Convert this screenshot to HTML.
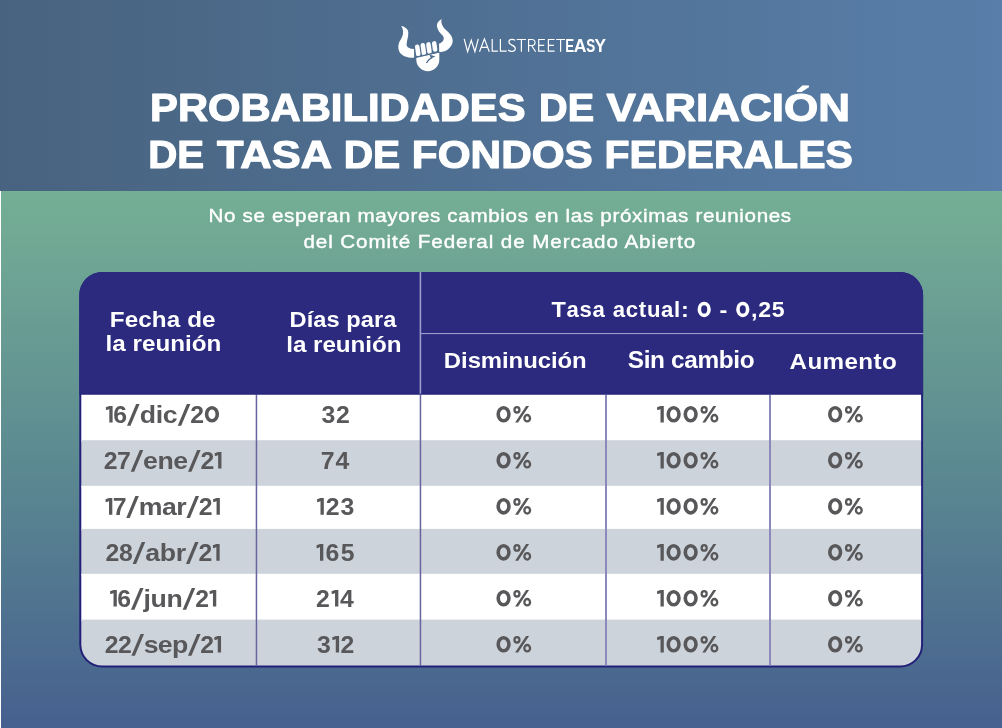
<!DOCTYPE html>
<html><head><meta charset="utf-8"><style>
html,body{margin:0;padding:0;width:1002px;height:728px;overflow:hidden;background:#46608f}
svg{display:block;will-change:transform}
text{font-family:"Liberation Sans",sans-serif}
</style></head><body>
<svg width="1002" height="728" viewBox="0 0 1002 728">
<defs>
<linearGradient id="gt" x1="0" y1="0" x2="1" y2="0"><stop offset="0" stop-color="#48637f"/><stop offset="1" stop-color="#587ea9"/></linearGradient>
<linearGradient id="gb" x1="0" y1="0" x2="0" y2="1"><stop offset="0" stop-color="#75af95"/><stop offset="0.5" stop-color="#5c8a91"/><stop offset="1" stop-color="#46608f"/></linearGradient>
<clipPath id="tc"><rect x="81.3" y="274" width="839.8" height="391.6" rx="21" ry="21"/></clipPath>
<clipPath id="th"><rect x="79" y="271" width="845" height="123.4"/></clipPath>
</defs>
<rect x="0" y="0" width="1002" height="191" fill="url(#gt)"/>
<rect x="0" y="191" width="1002" height="537" fill="url(#gb)"/>
<rect x="0" y="191" width="1" height="537" fill="#ffffff"/>
<rect x="79.3" y="272" width="843.8" height="395.6" rx="23" ry="23" fill="#221f78"/>
<g clip-path="url(#tc)">
<rect x="79" y="394.4" width="845" height="47.30000000000001" fill="#ffffff"/><rect x="79" y="440.2" width="845" height="47.10000000000002" fill="#cdd3da"/><rect x="79" y="485.8" width="845" height="44.599999999999966" fill="#ffffff"/><rect x="79" y="528.9" width="845" height="46.39999999999998" fill="#cdd3da"/><rect x="79" y="573.8" width="845" height="47.30000000000007" fill="#ffffff"/><rect x="79" y="619.6" width="845" height="49.89999999999998" fill="#cdd3da"/>
<rect x="255.7" y="394.4" width="1.5" height="274" fill="#67649f"/>
<rect x="419.7" y="394.4" width="1.5" height="274" fill="#67649f"/>
<rect x="605" y="394.4" width="2" height="274" fill="#8b89ba"/>
<rect x="769" y="394.4" width="2" height="274" fill="#8b89ba"/>
</g>
<g clip-path="url(#th)">
<rect x="79.3" y="272" width="843.8" height="395.6" rx="23" ry="23" fill="#2c2a7e"/>
<rect x="419.6" y="272" width="1.6" height="122.4" fill="#9d9ccb"/>
<rect x="420.4" y="333" width="503" height="1.1" fill="#9d9ccb"/>
<rect x="79.3" y="393.5" width="844" height="1" fill="#221f78" fill-opacity="0.7"/>
</g>
<defs><mask id="lm" maskUnits="userSpaceOnUse" x="390" y="10" width="70" height="70">
<rect x="390" y="10" width="70" height="70" fill="#fff"/>
<path d="M415.6,57.4 L439.4,51.8" stroke="#000" stroke-width="1.2" fill="none"/>
<path d="M426.4,63 C427.6,60.4 429.6,58.6 432.4,57.4" stroke="#000" stroke-width="1.3" fill="none"/>
<path d="M429.2,54.6 L435.6,56.4 L431,58.2 Z" fill="#000"/>
</mask></defs>
<g fill="#fff" mask="url(#lm)">
<path d="M401.2,26.1 C404,30 403.6,35.5 400.6,39.7 C397.4,44.5 397.4,51 401.8,54.6 C405,57.4 410,58.1 414.2,57.4 L414,49 L413.6,49 C410,49 406.6,47.6 406.6,44.6 C406.6,41 408.6,37 408.3,32.3 C408,29 405,26.8 401.2,26.1 Z"/>
<path d="M441.6,19 C438,21 436.5,24 437,26.5 C437.5,30 440,33 442.6,35.6 C444.6,38 444,41 441,42.8 C440.4,43.2 439.8,43.6 439,43.8 L439.2,52.1 L440.4,52.1 C446,52 452.7,47 452.7,41 C452.7,35 447,31.5 444.4,28.6 C442,25.5 440.6,22 441.6,19 Z"/>
<path d="M416.3,57.5 L439.3,52.4 L439.3,59.7 A11.5,11.5 0 0 1 416.3,59.7 Z"/>
<rect x="415.5" y="44.5" width="4.5" height="11.8" rx="2.2" transform="rotate(-8 417.8 50.4)"/>
<rect x="421.1" y="43" width="4.5" height="12.3" rx="2.2" transform="rotate(-8 423.4 49.2)"/>
<rect x="426.7" y="42.1" width="4.5" height="11.8" rx="2.2" transform="rotate(-8 429 48)"/>
<rect x="432.4" y="41.1" width="4.5" height="10.6" rx="2.2" transform="rotate(-8 434.7 46.4)"/>
</g>

<g fill="none" stroke="#fff" stroke-width="1.2" stroke-linejoin="miter" stroke-linecap="butt">
<title>WALLSTREET</title>
<path d="M464.2,38.9 L467.6,51.6 L471.25,40.2 L474.9,51.6 L478.3,38.9"/>
<path d="M479.5,51.8 L484.4,38.9 L489.3,51.8 M481.2,47.4 L487.6,47.4"/>
<path d="M492.2,38.9 L492.2,51.2 L497.9,51.2"/>
<path d="M500.4,38.9 L500.4,51.2 L506.7,51.2"/>
<path d="M515.2,40.4 C514.2,39.6 513.2,39.3 511.9,39.3 C509.9,39.3 508.9,40.5 508.9,42 C508.9,45.6 515.3,44.6 515.3,48.6 C515.3,50.3 514,51.4 511.9,51.4 C510.4,51.4 509.1,50.9 508.2,50"/>
<path d="M516.7,39.5 L526.1,39.5 M521.4,39.5 L521.4,51.8"/>
<path d="M528.6,51.8 L528.6,39.5 L531.8,39.5 C533.8,39.5 535,40.6 535,42.5 C535,44.4 533.8,45.5 531.8,45.5 L528.6,45.5 M531.6,45.5 L535.6,51.8"/>
<path d="M544.9,39.5 L538.7,39.5 L538.7,51.2 L544.9,51.2 M538.7,45.3 L544.2,45.3"/>
<path d="M554.6,39.5 L548.4,39.5 L548.4,51.2 L554.6,51.2 M548.4,45.3 L553.9,45.3"/>
<path d="M556.2,39.5 L565,39.5 M560.6,39.5 L560.6,51.8"/>
</g>

<text transform="translate(150.096 121.4) scale(1.0506 1)" font-size="39.714" font-weight="bold" fill="#ffffff" stroke="#ffffff" stroke-width="1.2" stroke-linejoin="round">PROBABILIDADES</text><text transform="translate(539.023 121.4) scale(0.9977 1)" font-size="39.714" font-weight="bold" fill="#ffffff" stroke="#ffffff" stroke-width="1.2" stroke-linejoin="round">DE</text><text transform="translate(606.4 121.4) scale(1.1084 1)" font-size="39.714" font-weight="bold" fill="#ffffff" stroke="#ffffff" stroke-width="1.2" stroke-linejoin="round">VARIACIÓN</text><text transform="translate(148.185 168.4) scale(1.0133 1)" font-size="39.714" font-weight="bold" fill="#ffffff" stroke="#ffffff" stroke-width="1.2" stroke-linejoin="round">DE</text><text transform="translate(217.066 168.4) scale(1.0935 1)" font-size="39.714" font-weight="bold" fill="#ffffff" stroke="#ffffff" stroke-width="1.2" stroke-linejoin="round">TASA</text><text transform="translate(343.653 168.4) scale(1.0269 1)" font-size="39.714" font-weight="bold" fill="#ffffff" stroke="#ffffff" stroke-width="1.2" stroke-linejoin="round">DE</text><text transform="translate(411.861 168.4) scale(1.0654 1)" font-size="39.714" font-weight="bold" fill="#ffffff" stroke="#ffffff" stroke-width="1.2" stroke-linejoin="round">FONDOS</text><text transform="translate(604.539 168.4) scale(1.0327 1)" font-size="39.714" font-weight="bold" fill="#ffffff" stroke="#ffffff" stroke-width="1.2" stroke-linejoin="round">FEDERALES</text><text transform="translate(208.551 222.3) scale(1.12 1)" font-size="18.406" font-weight="normal" fill="#ffffff" letter-spacing="0.582" stroke="#ffffff" stroke-width="0.4" stroke-linejoin="round">No se esperan mayores cambios en las próximas reuniones</text><text transform="translate(303.375 248.3) scale(1.12 1)" font-size="18.406" font-weight="normal" fill="#ffffff" letter-spacing="0.828" stroke="#ffffff" stroke-width="0.4" stroke-linejoin="round">del Comité Federal de Mercado Abierto</text><text transform="translate(109.746 326.5) scale(1.06 1)" font-size="22.857" font-weight="bold" fill="#ffffff" letter-spacing="0.102">Fecha de</text><text transform="translate(105.546 351.4) scale(1.06 1)" font-size="22.857" font-weight="bold" fill="#ffffff" letter-spacing="0.006">la reunión</text><text transform="translate(289.583 326.6) scale(1.06 1)" font-size="22.286" font-weight="bold" fill="#ffffff" letter-spacing="0.062">Días para</text><text transform="translate(286.346 351.6) scale(1.06 1)" font-size="22.857" font-weight="bold" fill="#ffffff" letter-spacing="-0.068">la reunión</text><text transform="translate(551.465 317.2) scale(1.06 1)" font-size="22.143" font-weight="bold" fill="#ffffff">T</text><text transform="translate(566.503 317.2) scale(1.0 1)" font-size="22.143" font-weight="bold" fill="#ffffff">a</text><text transform="translate(579.519 317.2) scale(1.0 1)" font-size="22.143" font-weight="bold" fill="#ffffff">s</text><text transform="translate(592.534 317.2) scale(1.0 1)" font-size="22.143" font-weight="bold" fill="#ffffff">a</text><text transform="translate(605.55 317.2) scale(1.06 1)" font-size="22.143" font-weight="bold" fill="#ffffff"> </text><text transform="translate(612.772 317.2) scale(1.0 1)" font-size="22.143" font-weight="bold" fill="#ffffff">a</text><text transform="translate(625.787 317.2) scale(1.0 1)" font-size="22.143" font-weight="bold" fill="#ffffff">c</text><text transform="translate(638.803 317.2) scale(1.0 1)" font-size="22.143" font-weight="bold" fill="#ffffff">t</text><text transform="translate(646.877 317.2) scale(1.0 1)" font-size="22.143" font-weight="bold" fill="#ffffff">u</text><text transform="translate(661.103 317.2) scale(1.0 1)" font-size="22.143" font-weight="bold" fill="#ffffff">a</text><text transform="translate(674.119 317.2) scale(1.0 1)" font-size="22.143" font-weight="bold" fill="#ffffff">l</text><text transform="translate(680.972 317.2) scale(1.06 1)" font-size="22.143" font-weight="bold" fill="#ffffff">:</text><text transform="translate(689.488 317.2) scale(1.06 1)" font-size="22.143" font-weight="bold" fill="#ffffff"> </text><ellipse cx="704.18" cy="309.45" rx="4.84" ry="5.95" fill="none" stroke="#ffffff" stroke-width="3.6"/><text transform="translate(712.357 317.2) scale(1.06 1)" font-size="22.143" font-weight="bold" fill="#ffffff"> </text><text transform="translate(719.579 317.2) scale(1.06 1)" font-size="22.143" font-weight="bold" fill="#ffffff">-</text><text transform="translate(728.096 317.2) scale(1.06 1)" font-size="22.143" font-weight="bold" fill="#ffffff"> </text><ellipse cx="742.79" cy="309.45" rx="4.84" ry="5.95" fill="none" stroke="#ffffff" stroke-width="3.6"/><text transform="translate(750.965 317.2) scale(1.06 1)" font-size="22.143" font-weight="bold" fill="#ffffff">,</text><text transform="translate(758.187 317.2) scale(1.04 1)" font-size="22.143" font-weight="bold" fill="#ffffff">2</text><text transform="translate(771.695 317.2) scale(1.04 1)" font-size="22.143" font-weight="bold" fill="#ffffff">5</text><text transform="translate(443.864 368.0) scale(1.06 1)" font-size="22.571" font-weight="bold" fill="#ffffff" letter-spacing="-0.073">Disminución</text><text transform="translate(627.712 368.4) scale(1.06 1)" font-size="23.0" font-weight="bold" fill="#ffffff" letter-spacing="-0.316">Sin cambio</text><text transform="translate(789.515 368.6) scale(1.06 1)" font-size="22.857" font-weight="bold" fill="#ffffff" letter-spacing="0.354">Aumento</text><path d="M109.31,405.90 L112.61,405.90 L112.61,422.60 L109.31,422.60 L109.31,408.90 L108.01,409.70 L106.01,410.10 L105.81,407.20 Z" fill="#58585b"/><text transform="translate(113.178 422.6) scale(1.04 1)" font-size="23.857" font-weight="bold" fill="#58585b">6</text><path d="M127.00,425.78 L130.48,425.78 L139.62,404.01 L136.14,404.01 Z" fill="#58585b"/><text transform="translate(139.646 422.6) scale(1.12 1)" font-size="23.857" font-weight="bold" fill="#58585b">d</text><text transform="translate(155.691 422.6) scale(1.12 1)" font-size="23.857" font-weight="bold" fill="#58585b">i</text><text transform="translate(162.839 422.6) scale(1.12 1)" font-size="23.857" font-weight="bold" fill="#58585b">c</text><path d="M177.72,425.78 L181.20,425.78 L190.35,404.01 L186.87,404.01 Z" fill="#58585b"/><text transform="translate(190.368 422.6) scale(1.04 1)" font-size="23.857" font-weight="bold" fill="#58585b">2</text><ellipse cx="211.94" cy="414.25" rx="5.36" ry="6.55" fill="none" stroke="#58585b" stroke-width="3.6"/><text transform="translate(321.504 422.6) scale(1.04 1)" font-size="23.857" font-weight="bold" fill="#58585b">3</text><text transform="translate(335.998 422.6) scale(1.04 1)" font-size="23.857" font-weight="bold" fill="#58585b">2</text><ellipse cx="503.56" cy="414.25" rx="5.36" ry="6.55" fill="none" stroke="#58585b" stroke-width="3.6"/><ellipse cx="516.96" cy="409.78" rx="2.50" ry="2.73" fill="none" stroke="#58585b" stroke-width="2.3"/><ellipse cx="527.21" cy="418.23" rx="2.85" ry="3.22" fill="none" stroke="#58585b" stroke-width="2.3"/><path d="M515.11,422.60 L518.11,422.60 L529.11,405.90 L526.11,405.90 Z" fill="#58585b"/><path d="M660.50,405.90 L663.80,405.90 L663.80,422.60 L660.50,422.60 L660.50,408.90 L659.21,409.70 L657.21,410.10 L657.00,407.20 Z" fill="#58585b"/><ellipse cx="673.62" cy="414.25" rx="5.36" ry="6.55" fill="none" stroke="#58585b" stroke-width="3.6"/><ellipse cx="690.64" cy="414.25" rx="5.36" ry="6.55" fill="none" stroke="#58585b" stroke-width="3.6"/><ellipse cx="704.16" cy="409.78" rx="2.50" ry="2.73" fill="none" stroke="#58585b" stroke-width="2.3"/><ellipse cx="714.41" cy="418.23" rx="2.85" ry="3.22" fill="none" stroke="#58585b" stroke-width="2.3"/><path d="M702.31,422.60 L705.31,422.60 L716.31,405.90 L713.31,405.90 Z" fill="#58585b"/><ellipse cx="835.16" cy="414.25" rx="5.36" ry="6.55" fill="none" stroke="#58585b" stroke-width="3.6"/><ellipse cx="848.56" cy="409.78" rx="2.50" ry="2.73" fill="none" stroke="#58585b" stroke-width="2.3"/><ellipse cx="858.81" cy="418.23" rx="2.85" ry="3.22" fill="none" stroke="#58585b" stroke-width="2.3"/><path d="M846.71,422.60 L849.71,422.60 L860.71,405.90 L857.71,405.90 Z" fill="#58585b"/><text transform="translate(103.756 468.6) scale(1.04 1)" font-size="23.857" font-weight="bold" fill="#58585b">2</text><text transform="translate(117.068 468.6) scale(1.04 1)" font-size="23.857" font-weight="bold" fill="#58585b">7</text><path d="M130.68,471.78 L134.16,471.78 L143.30,450.01 L139.82,450.01 Z" fill="#58585b"/><text transform="translate(143.115 468.6) scale(1.12 1)" font-size="23.857" font-weight="bold" fill="#58585b">e</text><text transform="translate(157.489 468.6) scale(1.12 1)" font-size="23.857" font-weight="bold" fill="#58585b">n</text><text transform="translate(173.325 468.6) scale(1.12 1)" font-size="23.857" font-weight="bold" fill="#58585b">e</text><path d="M188.00,471.78 L191.48,471.78 L200.62,450.01 L197.14,450.01 Z" fill="#58585b"/><text transform="translate(200.433 468.6) scale(1.04 1)" font-size="23.857" font-weight="bold" fill="#58585b">2</text><path d="M218.15,451.90 L221.45,451.90 L221.45,468.60 L218.15,468.60 L218.15,454.90 L216.85,455.70 L214.85,456.10 L214.65,453.20 Z" fill="#58585b"/><text transform="translate(320.808 468.6) scale(1.04 1)" font-size="23.857" font-weight="bold" fill="#58585b">7</text><text transform="translate(335.606 468.6) scale(1.04 1)" font-size="23.857" font-weight="bold" fill="#58585b">4</text><ellipse cx="503.56" cy="460.25" rx="5.36" ry="6.55" fill="none" stroke="#58585b" stroke-width="3.6"/><ellipse cx="516.96" cy="455.78" rx="2.50" ry="2.73" fill="none" stroke="#58585b" stroke-width="2.3"/><ellipse cx="527.21" cy="464.23" rx="2.85" ry="3.22" fill="none" stroke="#58585b" stroke-width="2.3"/><path d="M515.11,468.60 L518.11,468.60 L529.11,451.90 L526.11,451.90 Z" fill="#58585b"/><path d="M660.50,451.90 L663.80,451.90 L663.80,468.60 L660.50,468.60 L660.50,454.90 L659.21,455.70 L657.21,456.10 L657.00,453.20 Z" fill="#58585b"/><ellipse cx="673.62" cy="460.25" rx="5.36" ry="6.55" fill="none" stroke="#58585b" stroke-width="3.6"/><ellipse cx="690.64" cy="460.25" rx="5.36" ry="6.55" fill="none" stroke="#58585b" stroke-width="3.6"/><ellipse cx="704.16" cy="455.78" rx="2.50" ry="2.73" fill="none" stroke="#58585b" stroke-width="2.3"/><ellipse cx="714.41" cy="464.23" rx="2.85" ry="3.22" fill="none" stroke="#58585b" stroke-width="2.3"/><path d="M702.31,468.60 L705.31,468.60 L716.31,451.90 L713.31,451.90 Z" fill="#58585b"/><ellipse cx="835.16" cy="460.25" rx="5.36" ry="6.55" fill="none" stroke="#58585b" stroke-width="3.6"/><ellipse cx="848.56" cy="455.78" rx="2.50" ry="2.73" fill="none" stroke="#58585b" stroke-width="2.3"/><ellipse cx="858.81" cy="464.23" rx="2.85" ry="3.22" fill="none" stroke="#58585b" stroke-width="2.3"/><path d="M846.71,468.60 L849.71,468.60 L860.71,451.90 L857.71,451.90 Z" fill="#58585b"/><path d="M109.01,498.00 L112.31,498.00 L112.31,514.70 L109.01,514.70 L109.01,501.00 L107.71,501.80 L105.71,502.20 L105.51,499.30 Z" fill="#58585b"/><text transform="translate(112.646 514.7) scale(1.04 1)" font-size="23.857" font-weight="bold" fill="#58585b">7</text><path d="M126.24,517.88 L129.71,517.88 L138.86,496.11 L135.38,496.11 Z" fill="#58585b"/><text transform="translate(138.65 514.7) scale(1.12 1)" font-size="23.857" font-weight="bold" fill="#58585b">m</text><text transform="translate(161.9 514.7) scale(1.12 1)" font-size="23.857" font-weight="bold" fill="#58585b">a</text><text transform="translate(176.252 514.7) scale(1.12 1)" font-size="23.857" font-weight="bold" fill="#58585b">r</text><path d="M186.44,517.88 L189.92,517.88 L199.06,496.11 L195.59,496.11 Z" fill="#58585b"/><text transform="translate(198.855 514.7) scale(1.04 1)" font-size="23.857" font-weight="bold" fill="#58585b">2</text><path d="M216.55,498.00 L219.85,498.00 L219.85,514.70 L216.55,514.70 L216.55,501.00 L215.25,501.80 L213.25,502.20 L213.05,499.30 Z" fill="#58585b"/><path d="M320.50,498.00 L323.81,498.00 L323.81,514.70 L320.50,514.70 L320.50,501.00 L319.20,501.80 L317.20,502.20 L317.00,499.30 Z" fill="#58585b"/><text transform="translate(325.727 514.7) scale(1.04 1)" font-size="23.857" font-weight="bold" fill="#58585b">2</text><text transform="translate(340.598 514.7) scale(1.04 1)" font-size="23.857" font-weight="bold" fill="#58585b">3</text><ellipse cx="503.56" cy="506.35" rx="5.36" ry="6.55" fill="none" stroke="#58585b" stroke-width="3.6"/><ellipse cx="516.96" cy="501.88" rx="2.50" ry="2.73" fill="none" stroke="#58585b" stroke-width="2.3"/><ellipse cx="527.21" cy="510.33" rx="2.85" ry="3.22" fill="none" stroke="#58585b" stroke-width="2.3"/><path d="M515.11,514.70 L518.11,514.70 L529.11,498.00 L526.11,498.00 Z" fill="#58585b"/><path d="M660.50,498.00 L663.80,498.00 L663.80,514.70 L660.50,514.70 L660.50,501.00 L659.21,501.80 L657.21,502.20 L657.00,499.30 Z" fill="#58585b"/><ellipse cx="673.62" cy="506.35" rx="5.36" ry="6.55" fill="none" stroke="#58585b" stroke-width="3.6"/><ellipse cx="690.64" cy="506.35" rx="5.36" ry="6.55" fill="none" stroke="#58585b" stroke-width="3.6"/><ellipse cx="704.16" cy="501.88" rx="2.50" ry="2.73" fill="none" stroke="#58585b" stroke-width="2.3"/><ellipse cx="714.41" cy="510.33" rx="2.85" ry="3.22" fill="none" stroke="#58585b" stroke-width="2.3"/><path d="M702.31,514.70 L705.31,514.70 L716.31,498.00 L713.31,498.00 Z" fill="#58585b"/><ellipse cx="835.16" cy="506.35" rx="5.36" ry="6.55" fill="none" stroke="#58585b" stroke-width="3.6"/><ellipse cx="848.56" cy="501.88" rx="2.50" ry="2.73" fill="none" stroke="#58585b" stroke-width="2.3"/><ellipse cx="858.81" cy="510.33" rx="2.85" ry="3.22" fill="none" stroke="#58585b" stroke-width="2.3"/><path d="M846.71,514.70 L849.71,514.70 L860.71,498.00 L857.71,498.00 Z" fill="#58585b"/><text transform="translate(105.456 560.7) scale(1.04 1)" font-size="23.857" font-weight="bold" fill="#58585b">2</text><text transform="translate(118.889 560.7) scale(1.04 1)" font-size="23.857" font-weight="bold" fill="#58585b">8</text><path d="M132.62,563.88 L136.10,563.88 L145.24,542.11 L141.76,542.11 Z" fill="#58585b"/><text transform="translate(145.176 560.7) scale(1.12 1)" font-size="23.857" font-weight="bold" fill="#58585b">a</text><text transform="translate(159.67 560.7) scale(1.12 1)" font-size="23.857" font-weight="bold" fill="#58585b">b</text><text transform="translate(175.626 560.7) scale(1.12 1)" font-size="23.857" font-weight="bold" fill="#58585b">r</text><path d="M185.96,563.88 L189.44,563.88 L198.58,542.11 L195.10,542.11 Z" fill="#58585b"/><text transform="translate(198.513 560.7) scale(1.04 1)" font-size="23.857" font-weight="bold" fill="#58585b">2</text><path d="M216.35,544.00 L219.65,544.00 L219.65,560.70 L216.35,560.70 L216.35,547.00 L215.05,547.80 L213.05,548.20 L212.85,545.30 Z" fill="#58585b"/><path d="M320.00,544.00 L323.31,544.00 L323.31,560.70 L320.00,560.70 L320.00,547.00 L318.70,547.80 L316.70,548.20 L316.50,545.30 Z" fill="#58585b"/><text transform="translate(325.603 560.7) scale(1.04 1)" font-size="23.857" font-weight="bold" fill="#58585b">6</text><text transform="translate(340.85 560.7) scale(1.04 1)" font-size="23.857" font-weight="bold" fill="#58585b">5</text><ellipse cx="503.56" cy="552.35" rx="5.36" ry="6.55" fill="none" stroke="#58585b" stroke-width="3.6"/><ellipse cx="516.96" cy="547.88" rx="2.50" ry="2.73" fill="none" stroke="#58585b" stroke-width="2.3"/><ellipse cx="527.21" cy="556.33" rx="2.85" ry="3.22" fill="none" stroke="#58585b" stroke-width="2.3"/><path d="M515.11,560.70 L518.11,560.70 L529.11,544.00 L526.11,544.00 Z" fill="#58585b"/><path d="M660.50,544.00 L663.80,544.00 L663.80,560.70 L660.50,560.70 L660.50,547.00 L659.21,547.80 L657.21,548.20 L657.00,545.30 Z" fill="#58585b"/><ellipse cx="673.62" cy="552.35" rx="5.36" ry="6.55" fill="none" stroke="#58585b" stroke-width="3.6"/><ellipse cx="690.64" cy="552.35" rx="5.36" ry="6.55" fill="none" stroke="#58585b" stroke-width="3.6"/><ellipse cx="704.16" cy="547.88" rx="2.50" ry="2.73" fill="none" stroke="#58585b" stroke-width="2.3"/><ellipse cx="714.41" cy="556.33" rx="2.85" ry="3.22" fill="none" stroke="#58585b" stroke-width="2.3"/><path d="M702.31,560.70 L705.31,560.70 L716.31,544.00 L713.31,544.00 Z" fill="#58585b"/><ellipse cx="835.16" cy="552.35" rx="5.36" ry="6.55" fill="none" stroke="#58585b" stroke-width="3.6"/><ellipse cx="848.56" cy="547.88" rx="2.50" ry="2.73" fill="none" stroke="#58585b" stroke-width="2.3"/><ellipse cx="858.81" cy="556.33" rx="2.85" ry="3.22" fill="none" stroke="#58585b" stroke-width="2.3"/><path d="M846.71,560.70 L849.71,560.70 L860.71,544.00 L857.71,544.00 Z" fill="#58585b"/><path d="M113.51,589.90 L116.81,589.90 L116.81,606.60 L113.51,606.60 L113.51,592.90 L112.21,593.70 L110.21,594.10 L110.01,591.20 Z" fill="#58585b"/><text transform="translate(117.252 606.6) scale(1.04 1)" font-size="23.857" font-weight="bold" fill="#58585b">6</text><path d="M130.95,609.78 L134.43,609.78 L143.57,588.01 L140.09,588.01 Z" fill="#58585b"/><text transform="translate(143.468 606.6) scale(1.12 1)" font-size="23.857" font-weight="bold" fill="#58585b">j</text><text transform="translate(150.49 606.6) scale(1.12 1)" font-size="23.857" font-weight="bold" fill="#58585b">u</text><text transform="translate(166.41 606.6) scale(1.12 1)" font-size="23.857" font-weight="bold" fill="#58585b">n</text><path d="M182.63,609.78 L186.11,609.78 L195.25,588.01 L191.77,588.01 Z" fill="#58585b"/><text transform="translate(195.149 606.6) scale(1.04 1)" font-size="23.857" font-weight="bold" fill="#58585b">2</text><path d="M212.95,589.90 L216.25,589.90 L216.25,606.60 L212.95,606.60 L212.95,592.90 L211.65,593.70 L209.65,594.10 L209.45,591.20 Z" fill="#58585b"/><text transform="translate(315.956 606.6) scale(1.04 1)" font-size="23.857" font-weight="bold" fill="#58585b">2</text><path d="M335.06,589.90 L338.36,589.90 L338.36,606.60 L335.06,606.60 L335.06,592.90 L333.76,593.70 L331.76,594.10 L331.56,591.20 Z" fill="#58585b"/><text transform="translate(340.106 606.6) scale(1.04 1)" font-size="23.857" font-weight="bold" fill="#58585b">4</text><ellipse cx="503.56" cy="598.25" rx="5.36" ry="6.55" fill="none" stroke="#58585b" stroke-width="3.6"/><ellipse cx="516.96" cy="593.78" rx="2.50" ry="2.73" fill="none" stroke="#58585b" stroke-width="2.3"/><ellipse cx="527.21" cy="602.23" rx="2.85" ry="3.22" fill="none" stroke="#58585b" stroke-width="2.3"/><path d="M515.11,606.60 L518.11,606.60 L529.11,589.90 L526.11,589.90 Z" fill="#58585b"/><path d="M660.50,589.90 L663.80,589.90 L663.80,606.60 L660.50,606.60 L660.50,592.90 L659.21,593.70 L657.21,594.10 L657.00,591.20 Z" fill="#58585b"/><ellipse cx="673.62" cy="598.25" rx="5.36" ry="6.55" fill="none" stroke="#58585b" stroke-width="3.6"/><ellipse cx="690.64" cy="598.25" rx="5.36" ry="6.55" fill="none" stroke="#58585b" stroke-width="3.6"/><ellipse cx="704.16" cy="593.78" rx="2.50" ry="2.73" fill="none" stroke="#58585b" stroke-width="2.3"/><ellipse cx="714.41" cy="602.23" rx="2.85" ry="3.22" fill="none" stroke="#58585b" stroke-width="2.3"/><path d="M702.31,606.60 L705.31,606.60 L716.31,589.90 L713.31,589.90 Z" fill="#58585b"/><ellipse cx="835.16" cy="598.25" rx="5.36" ry="6.55" fill="none" stroke="#58585b" stroke-width="3.6"/><ellipse cx="848.56" cy="593.78" rx="2.50" ry="2.73" fill="none" stroke="#58585b" stroke-width="2.3"/><ellipse cx="858.81" cy="602.23" rx="2.85" ry="3.22" fill="none" stroke="#58585b" stroke-width="2.3"/><path d="M846.71,606.60 L849.71,606.60 L860.71,589.90 L857.71,589.90 Z" fill="#58585b"/><text transform="translate(104.856 652.6) scale(1.04 1)" font-size="23.857" font-weight="bold" fill="#58585b">2</text><text transform="translate(117.981 652.6) scale(1.04 1)" font-size="23.857" font-weight="bold" fill="#58585b">2</text><path d="M131.40,655.78 L134.88,655.78 L144.03,634.01 L140.55,634.01 Z" fill="#58585b"/><text transform="translate(143.653 652.6) scale(1.12 1)" font-size="23.857" font-weight="bold" fill="#58585b">s</text><text transform="translate(157.839 652.6) scale(1.12 1)" font-size="23.857" font-weight="bold" fill="#58585b">e</text><text transform="translate(172.026 652.6) scale(1.12 1)" font-size="23.857" font-weight="bold" fill="#58585b">p</text><path d="M187.97,655.78 L191.45,655.78 L200.60,634.01 L197.12,634.01 Z" fill="#58585b"/><text transform="translate(200.221 652.6) scale(1.04 1)" font-size="23.857" font-weight="bold" fill="#58585b">2</text><path d="M217.75,635.90 L221.05,635.90 L221.05,652.60 L217.75,652.60 L217.75,638.90 L216.45,639.70 L214.45,640.10 L214.25,637.20 Z" fill="#58585b"/><text transform="translate(316.904 652.6) scale(1.04 1)" font-size="23.857" font-weight="bold" fill="#58585b">3</text><path d="M335.78,635.90 L339.08,635.90 L339.08,652.60 L335.78,652.60 L335.78,638.90 L334.48,639.70 L332.48,640.10 L332.28,637.20 Z" fill="#58585b"/><text transform="translate(340.598 652.6) scale(1.04 1)" font-size="23.857" font-weight="bold" fill="#58585b">2</text><ellipse cx="503.56" cy="644.25" rx="5.36" ry="6.55" fill="none" stroke="#58585b" stroke-width="3.6"/><ellipse cx="516.96" cy="639.78" rx="2.50" ry="2.73" fill="none" stroke="#58585b" stroke-width="2.3"/><ellipse cx="527.21" cy="648.23" rx="2.85" ry="3.22" fill="none" stroke="#58585b" stroke-width="2.3"/><path d="M515.11,652.60 L518.11,652.60 L529.11,635.90 L526.11,635.90 Z" fill="#58585b"/><path d="M660.50,635.90 L663.80,635.90 L663.80,652.60 L660.50,652.60 L660.50,638.90 L659.21,639.70 L657.21,640.10 L657.00,637.20 Z" fill="#58585b"/><ellipse cx="673.62" cy="644.25" rx="5.36" ry="6.55" fill="none" stroke="#58585b" stroke-width="3.6"/><ellipse cx="690.64" cy="644.25" rx="5.36" ry="6.55" fill="none" stroke="#58585b" stroke-width="3.6"/><ellipse cx="704.16" cy="639.78" rx="2.50" ry="2.73" fill="none" stroke="#58585b" stroke-width="2.3"/><ellipse cx="714.41" cy="648.23" rx="2.85" ry="3.22" fill="none" stroke="#58585b" stroke-width="2.3"/><path d="M702.31,652.60 L705.31,652.60 L716.31,635.90 L713.31,635.90 Z" fill="#58585b"/><ellipse cx="835.16" cy="644.25" rx="5.36" ry="6.55" fill="none" stroke="#58585b" stroke-width="3.6"/><ellipse cx="848.56" cy="639.78" rx="2.50" ry="2.73" fill="none" stroke="#58585b" stroke-width="2.3"/><ellipse cx="858.81" cy="648.23" rx="2.85" ry="3.22" fill="none" stroke="#58585b" stroke-width="2.3"/><path d="M846.71,652.60 L849.71,652.60 L860.71,635.90 L857.71,635.90 Z" fill="#58585b"/><text transform="translate(565.3 52.0) scale(0.7071 1)" font-size="18.857" font-weight="bold" fill="#ffffff">E</text><text transform="translate(573.647 52.0) scale(0.9358 1)" font-size="18.857" font-weight="bold" fill="#ffffff">A</text><text transform="translate(586.131 52.0) scale(0.7129 1)" font-size="18.857" font-weight="bold" fill="#ffffff">S</text><text transform="translate(594.428 52.0) scale(0.9138 1)" font-size="18.857" font-weight="bold" fill="#ffffff">Y</text>
</svg>
</body></html>
